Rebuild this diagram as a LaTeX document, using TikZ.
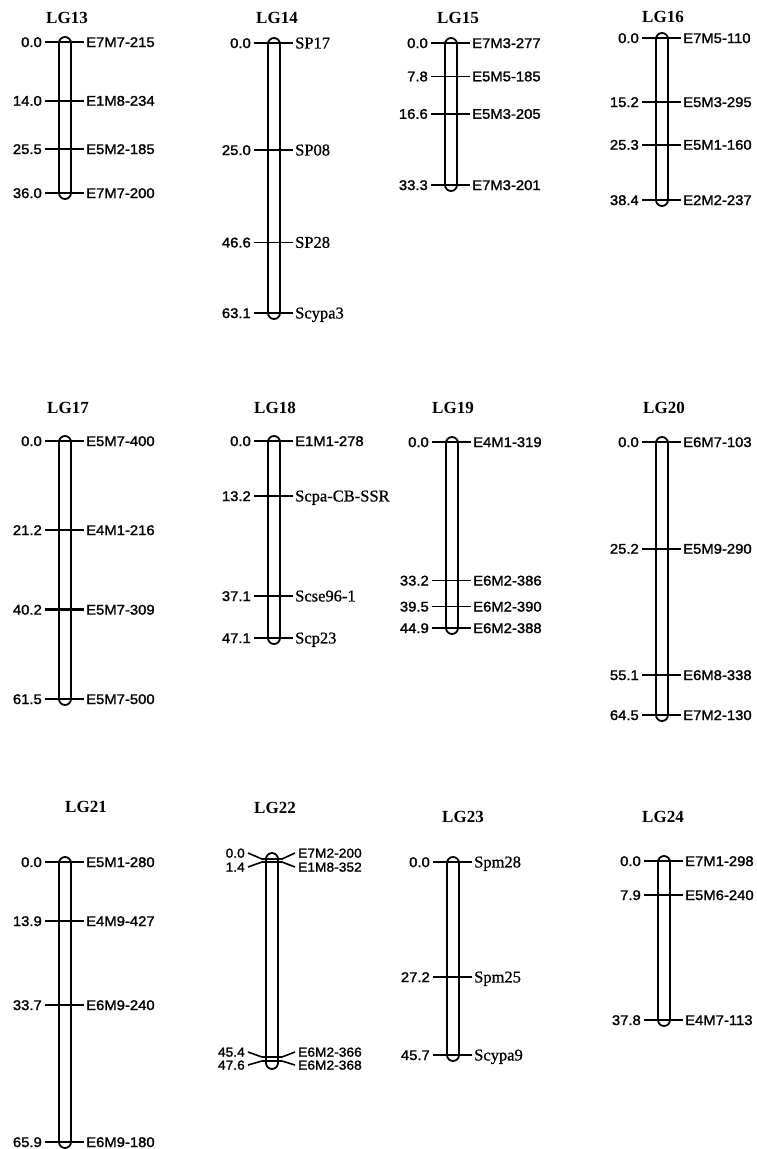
\documentclass[tikz,border=0pt]{standalone}
\usepackage{fontspec}
\newfontfamily\sansf[FakeStretch=1.06,FakeBold=1.5]{Liberation Sans}
\newfontfamily\serf[FakeBold=0.8]{Liberation Serif}
\newfontfamily\serft{Liberation Serif}
\tikzset{
  num/.style={font=\sansf\fontsize{14}{16}\selectfont, inner sep=0pt, text height=10pt, text depth=0pt, anchor=east},
  num22/.style={font=\sansf\fontsize{13}{15}\selectfont, inner sep=0pt, text height=9.3pt, text depth=0pt, anchor=east},
  lab22/.style={font=\sansf\fontsize{13}{15}\selectfont, inner sep=0pt, text height=9.3pt, text depth=0pt, anchor=west},
  saflp/.style={font=\sansf\fontsize{14}{16}\selectfont, inner sep=0pt, text height=10pt, text depth=0pt, anchor=west},
  sssr/.style={font=\serf\fontsize{16.5}{18}\selectfont, inner sep=0pt, text height=10.9pt, text depth=0pt, anchor=west},
  lgtitle/.style={font=\serft\bfseries\fontsize{17}{19}\selectfont, inner sep=0pt, text height=11.3pt, text depth=0pt},
  tickn/.style={line width=1.6pt},
  tickb/.style={line width=2.4pt},
  chrom/.style={line width=1.8pt, rounded corners=6pt},
}
% #1 cx, #2 top marker y, #3 bottom marker y
\newcommand\chromo[3]{\draw[chrom] ({#1-6},{#2-5}) rectangle ({#1+6},{#3+6});}
% #1 name, #2 cx, #3 y, #4 number, #5 label, #6 label style, #7 tick style
\newcommand\mkr[7]{%
  \node[num] (#1n) at ({#2-23},#3) {#4};
  \node[#6] (#1l) at ({#2+21},#3) {#5};
  \draw[#7] ([xshift=3pt]#1n.east) -- ([xshift=-2pt]#1l.west);
}
\begin{document}
\begin{tikzpicture}[x=1pt,y=-1pt]
\useasboundingbox[fill=white] (0,0) rectangle (756,1149);

% ---------- Row 1 ----------
\node[lgtitle] (t13) at (67,18) {LG13};
\chromo{65}{42}{193}
\mkr{m13a}{65}{42}{0.0}{E7M7-215}{saflp}{tickn}
\mkr{m13b}{65}{100.7}{14.0}{E1M8-234}{saflp}{tickn}
\mkr{m13c}{65}{149}{25.5}{E5M2-185}{saflp}{tickn}
\mkr{m13d}{65}{193}{36.0}{E7M7-200}{saflp}{tickb}

\node[lgtitle] (t14) at (277,18) {LG14};
\chromo{274}{43}{313}
\mkr{m14a}{274}{43}{0.0}{SP17}{sssr}{tickn}
\mkr{m14b}{274}{150}{25.0}{SP08}{sssr}{tickn}
\mkr{m14c}{274}{242.4}{46.6}{SP28}{sssr}{tickn}
\mkr{m14d}{274}{313}{63.1}{Scypa3}{sssr}{tickn}

\node[lgtitle] (t15) at (458,18) {LG15};
\chromo{451}{43}{185}
\mkr{m15a}{451}{43}{0.0}{E7M3-277}{saflp}{tickn}
\mkr{m15b}{451}{76.3}{7.8}{E5M5-185}{saflp}{tickn}
\mkr{m15c}{451}{113.8}{16.6}{E5M3-205}{saflp}{tickb}
\mkr{m15d}{451}{185}{33.3}{E7M3-201}{saflp}{tickn}

\node[lgtitle] (t16) at (663,17) {LG16};
\chromo{662}{38}{200}
\mkr{m16a}{662}{38}{0.0}{E7M5-110}{saflp}{tickn}
\mkr{m16b}{662}{102}{15.2}{E5M3-295}{saflp}{tickn}
\mkr{m16c}{662}{144.7}{25.3}{E5M1-160}{saflp}{tickb}
\mkr{m16d}{662}{200}{38.4}{E2M2-237}{saflp}{tickn}

% ---------- Row 2 ----------
\node[lgtitle] (t17) at (68,408) {LG17};
\chromo{65}{441}{699}
\mkr{m17a}{65}{441}{0.0}{E5M7-400}{saflp}{tickn}
\mkr{m17b}{65}{530}{21.2}{E4M1-216}{saflp}{tickn}
\mkr{m17c}{65}{609.6}{40.2}{E5M7-309}{saflp}{tickb}
\mkr{m17d}{65}{699}{61.5}{E5M7-500}{saflp}{tickn}

\node[lgtitle] (t18) at (275,408) {LG18};
\chromo{274}{441}{638}
\mkr{m18a}{274}{441}{0.0}{E1M1-278}{saflp}{tickn}
\mkr{m18b}{274}{496}{13.2}{Scpa-CB-SSR}{sssr}{tickn}
\mkr{m18c}{274}{596}{37.1}{Scse96-1}{sssr}{tickn}
\mkr{m18d}{274}{638}{47.1}{Scp23}{sssr}{tickn}

\node[lgtitle] (t19) at (453,408) {LG19};
\chromo{452}{442}{628}
\mkr{m19a}{452}{442}{0.0}{E4M1-319}{saflp}{tickn}
\mkr{m19b}{452}{580.5}{33.2}{E6M2-386}{saflp}{tickn}
\mkr{m19c}{452}{606.5}{39.5}{E6M2-390}{saflp}{tickn}
\mkr{m19d}{452}{628}{44.9}{E6M2-388}{saflp}{tickn}

\node[lgtitle] (t20) at (664,408) {LG20};
\chromo{662}{442}{715}
\mkr{m20a}{662}{442}{0.0}{E6M7-103}{saflp}{tickb}
\mkr{m20b}{662}{548.7}{25.2}{E5M9-290}{saflp}{tickn}
\mkr{m20c}{662}{675}{55.1}{E6M8-338}{saflp}{tickb}
\mkr{m20d}{662}{715}{64.5}{E7M2-130}{saflp}{tickn}

% ---------- Row 3 ----------
\node[lgtitle] (t21) at (86,807) {LG21};
\chromo{65}{862}{1142}
\mkr{m21a}{65}{862}{0.0}{E5M1-280}{saflp}{tickn}
\mkr{m21b}{65}{921}{13.9}{E4M9-427}{saflp}{tickn}
\mkr{m21c}{65}{1005}{33.7}{E6M9-240}{saflp}{tickb}
\mkr{m21d}{65}{1142}{65.9}{E6M9-180}{saflp}{tickn}

\node[lgtitle] (t22) at (275,808) {LG22};
\chromo{272}{858}{1063}
\node[num22] (m22an) at (245,853) {0.0};
\node[num22] (m22bn) at (245,867) {1.4};
\node[num22] (m22cn) at (245,1052) {45.4};
\node[num22] (m22dn) at (245,1065) {47.6};
\node[lab22] (m22al) at (298,853) {E7M2-200};
\node[lab22] (m22bl) at (298,867) {E1M8-352};
\node[lab22] (m22cl) at (298,1052) {E6M2-366};
\node[lab22] (m22dl) at (298,1065) {E6M2-368};
\draw[tickn] ([xshift=3pt]m22an.east) -- (262,859) -- (282,859) -- ([xshift=-3pt]m22al.west);
\draw[tickn] ([xshift=3pt]m22bn.east) -- (262,862) -- (282,862) -- ([xshift=-3pt]m22bl.west);
\draw[tickn] ([xshift=3pt]m22cn.east) -- (262,1057) -- (282,1057) -- ([xshift=-3pt]m22cl.west);
\draw[tickn] ([xshift=3pt]m22dn.east) -- (262,1061) -- (282,1061) -- ([xshift=-3pt]m22dl.west);

\node[lgtitle] (t23) at (463,817) {LG23};
\chromo{453}{862}{1055}
\mkr{m23a}{453}{862}{0.0}{Spm28}{sssr}{tickn}
\mkr{m23b}{453}{977}{27.2}{Spm25}{sssr}{tickb}
\mkr{m23c}{453}{1055}{45.7}{Scypa9}{sssr}{tickn}

\node[lgtitle] (t24) at (663,817) {LG24};
\chromo{664}{861}{1020}
\mkr{m24a}{664}{861}{0.0}{E7M1-298}{saflp}{tickn}
\mkr{m24b}{664}{895}{7.9}{E5M6-240}{saflp}{tickn}
\mkr{m24c}{664}{1020}{37.8}{E4M7-113}{saflp}{tickn}
\end{tikzpicture}
\end{document}
